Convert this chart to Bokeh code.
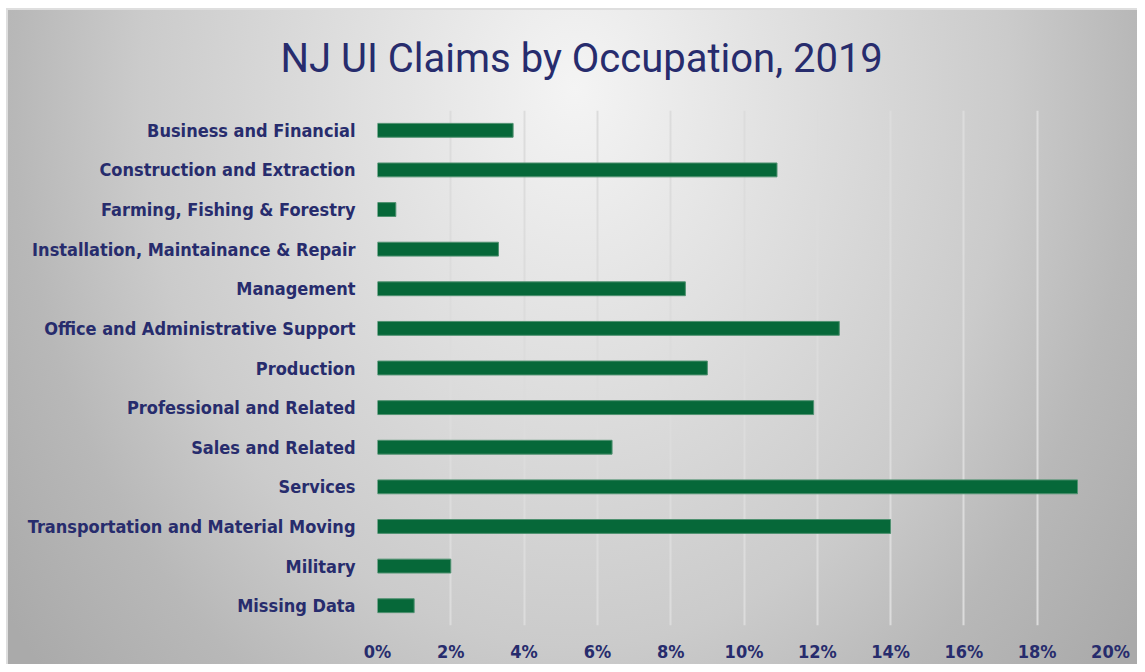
from bokeh.plotting import figure
from bokeh.models import FactorRange, Range1d, PrintfTickFormatter, FixedTicker
from bokeh.embed import file_html
from bokeh.resources import INLINE

categories = [
    "Business and Financial",
    "Construction and Extraction",
    "Farming, Fishing & Forestry",
    "Installation, Maintainance & Repair",
    "Management",
    "Office and Administrative Support",
    "Production",
    "Professional and Related",
    "Sales and Related",
    "Services",
    "Transportation and Material Moving",
    "Military",
    "Missing Data",
]
shares = [3.7, 10.9, 0.5, 3.3, 8.4, 12.6, 9.0, 11.9, 6.4, 19.1, 14.0, 2.0, 1.0]
x_ticks = [0, 2, 4, 6, 8, 10, 12, 14, 16, 18, 20]
title_text = "NJ UI Claims by Occupation, 2019"

NAVY = "#272C6D"
LABEL_FONT = "DejaVu Sans Condensed"

p = figure(
    width=1137, height=664,
    y_range=FactorRange(factors=categories[::-1], range_padding=0),
    x_range=Range1d(0, 20),
    output_backend="svg", toolbar_location=None,
    min_border_left=377, min_border_right=27,
    min_border_top=110, min_border_bottom=36,
)

p.styles = {
    "background": "radial-gradient(ellipse 700px 900px at 575px 88px, #f4f4f4 0%, #cbcbcb 62%, #b8b8b8 80%, #aaaaaa 100%)",
    "box-shadow": "inset 6px 8px 0 0 #ffffff, inset 8px 10px 0 0 #dedede",
}
p.border_fill_alpha = 0
p.background_fill_alpha = 0
p.outline_line_color = None

p.hbar(y=categories, right=shares, left=0, height=0.35,
       fill_color="#066839", line_color="#4f9170", line_width=1)

p.title.text = title_text
p.title.align = "left"
p.title.text_font = "Roboto"
p.title.text_font_style = "normal"
p.title.text_font_size = "40px"
p.title.text_color = NAVY
p.title.offset = -97
p.title.standoff = 58

p.xaxis.ticker = FixedTicker(ticks=x_ticks)
p.xaxis.formatter = PrintfTickFormatter(format="%d%%")
for ax in (p.xaxis[0], p.yaxis[0]):
    ax.axis_line_color = None
    ax.major_tick_line_color = None
    ax.minor_tick_line_color = None
    ax.major_label_text_font = LABEL_FONT
    ax.major_label_text_font_style = "bold"
    ax.major_label_text_font_size = "18px"
    ax.major_label_text_color = NAVY
p.xaxis.major_label_standoff = 9
p.yaxis.major_label_standoff = 16

p.xgrid.ticker = FixedTicker(ticks=x_ticks)
p.xgrid.grid_line_color = "#dcdcdc"
p.xgrid.grid_line_width = 2
p.ygrid.grid_line_color = None

open("out.html", "w").write(file_html(p, INLINE))
